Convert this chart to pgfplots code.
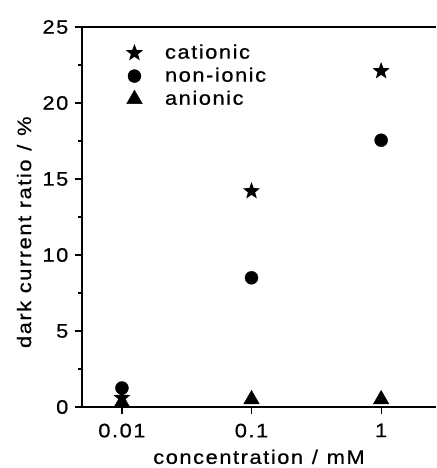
\documentclass[border=0pt]{standalone}
\usepackage{fontspec}
\setmainfont{Liberation Sans}[LetterSpace=8, FakeStretch=1.12, FakeBold=0.6]
\usepackage{pgfplots}
\pgfplotsset{compat=1.18}

% filled five-pointed star
\pgfdeclareplotmark{fstar}{%
  \pgfpathmoveto{\pgfpointpolar{90}{\pgfplotmarksize}}%
  \pgfpathlineto{\pgfpointpolar{126}{0.42\pgfplotmarksize}}%
  \pgfpathlineto{\pgfpointpolar{162}{\pgfplotmarksize}}%
  \pgfpathlineto{\pgfpointpolar{198}{0.42\pgfplotmarksize}}%
  \pgfpathlineto{\pgfpointpolar{234}{\pgfplotmarksize}}%
  \pgfpathlineto{\pgfpointpolar{270}{0.42\pgfplotmarksize}}%
  \pgfpathlineto{\pgfpointpolar{306}{\pgfplotmarksize}}%
  \pgfpathlineto{\pgfpointpolar{342}{0.42\pgfplotmarksize}}%
  \pgfpathlineto{\pgfpointpolar{18}{\pgfplotmarksize}}%
  \pgfpathlineto{\pgfpointpolar{54}{0.42\pgfplotmarksize}}%
  \pgfpathclose
  \pgfusepathqfill}

\begin{document}
\fontsize{19.5}{22}\selectfont
\begin{tikzpicture}
\begin{axis}[
    scale only axis,
    width=354pt, height=380pt,
    xmode=log,
    xmin=0.00492, xmax=2.65,
    ymin=0, ymax=25,
    xtick={0.01,0.1,1},
    xticklabels={0.01,0.1,1},
    xminorticks=false,
    ytick={0,5,10,15,20,25},
    minor y tick num=1,
    axis x line=box,
    axis y line=left,
    xtick pos=bottom,
    ytick pos=left,
    tick align=outside,
    axis line style={line width=1.2pt, -},
    tick style={line width=1.2pt, black},
    major tick length=7pt,
    minor tick length=4pt,
    /pgf/number format/assume math mode=true,
    ticklabel style={font=\fontsize{19.5}{22}\selectfont},
    xticklabel style={yshift=-3pt},
    label style={font=\fontsize{19.5}{22}\selectfont},
    xlabel={concentration\hspace{0.45em}/\hspace{0.45em}mM},
    ylabel={dark current ratio\hspace{0.45em}/\hspace{0.45em}\%},
    xlabel style={yshift=1pt},
    ylabel style={at={(ticklabel cs:0.46)}, yshift=-2pt},
    legend style={at={(0.115,0.965)}, anchor=north west, draw=none, fill=none,
        font=\fontsize{19.5}{22}\selectfont, row sep=2pt, column sep=20pt},
    legend cell align=left,
    clip=false,
]
\addplot[only marks, mark=fstar, mark size=9pt, black] coordinates {
    (0.01, 0.6) (0.1, 14.2) (1, 22.1)
};
\addplot[only marks, mark=*, mark size=6.5pt, black] coordinates {
    (0.01, 1.25) (0.1, 8.5) (1, 17.55)
};
\addplot[only marks, mark=triangle*, mark size=9pt, black] coordinates {
    (0.01, 0.3) (0.1, 0.5) (1, 0.5)
};
\legend{cationic, non-ionic, anionic}
\end{axis}
\pgfresetboundingbox
\path (current axis.south west) ++(-82pt,-61pt) rectangle ++(436pt,468pt);
\end{tikzpicture}
\end{document}
